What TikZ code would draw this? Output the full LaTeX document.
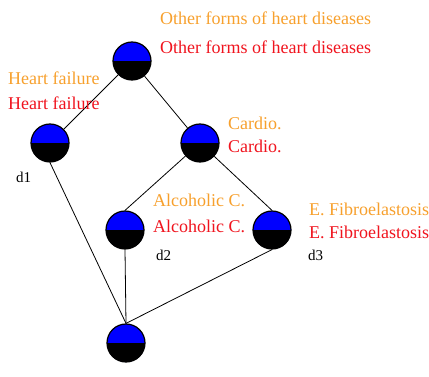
\documentclass[tikz,border=0pt]{standalone}
\usepackage{fontspec}
\setmainfont{Liberation Serif}
\usepackage{tikz}
\usetikzlibrary{calc}

\definecolor{lblorange}{RGB}{247,160,45}
\definecolor{lblred}{RGB}{240,20,30}

\tikzset{
	half/.style={circle, draw, line width=1.2pt, fill=blue, minimum size=38pt, inner sep=0pt,
		path picture={\fill[black](path picture bounding box.west) rectangle (path picture bounding box.south east);}},
	lbla/.style={anchor=west, inner sep=0pt, text=lblorange, font=\fontsize{18}{21}\selectfont},
	lblb/.style={anchor=west, inner sep=0pt, text=lblred, font=\fontsize{18}{21}\selectfont},
	dlbl/.style={anchor=west, inner sep=0pt, font=\fontsize{15}{18}\selectfont}
}

\begin{document}
\begin{tikzpicture}[x=1pt, y=-1pt]
			\useasboundingbox (0, 0) rectangle (429, 377);

			\node[half] (other) at (132, 61) {};
			\node[half] (hf) at (50, 143) {};
			\node[half] (cardio) at (200, 143) {};
			\node[half] (alc) at (125, 230) {};
			\node[half] (fib) at (272, 230) {};
			\node[half] (bot) at (126, 343) {};

			\draw[thick](other)--(hf);
			\draw[thick](other)--(cardio);
			\draw[thick](cardio)--(alc.north);
			\draw[thick](cardio)--(fib.north);
			\draw[thick](hf.south)--(bot.north);
			\draw[thick](alc.south)--(bot.north);
			\draw[thick](fib.south)--(bot.north);

			\node[lbla] (othera) at (160, 18) {Other forms of heart diseases};
			\node[lblb] (otherb) at (160, 47) {Other forms of heart diseases};
			\node[lbla] (hfa) at (8, 78) {Heart failure};
			\node[lblb] (hfb) at (8, 103) {Heart failure};
			\node[lbla] (cardioa) at (228, 123) {Cardio.};
			\node[lblb] (cardiob) at (228, 146) {Cardio.};
			\node[lbla] (alca) at (153, 200) {Alcoholic C.};
			\node[lblb] (alcb) at (153, 226) {Alcoholic C.};
			\node[lbla] (fiba) at (309, 209) {E. Fibroelastosis};
			\node[lblb] (fibb) at (309, 232) {E. Fibroelastosis};

			\node[dlbl] (d1) at (16, 177) {d1};
			\node[dlbl] (d2) at (156, 255) {d2};
			\node[dlbl] (d3) at (308, 255) {d3};
		\end{tikzpicture}
\end{document}
